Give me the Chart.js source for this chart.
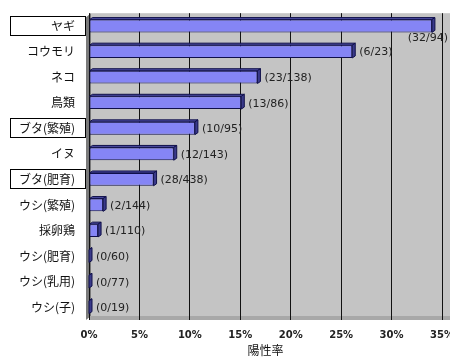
<!DOCTYPE html>
<html>
<head>
<meta charset="utf-8">
<script src="https://cdn.jsdelivr.net/npm/chart.js@4"></script>
<style>
  html, body { margin: 0; padding: 0; background: #fff; }
</style>
</head>
<body>
<canvas id="chart" width="450" height="358"></canvas>
<script>
const categories = ["ヤギ", "コウモリ", "ネコ", "鳥類", "ブタ(繁殖)", "イヌ", "ブタ(肥育)", "ウシ(繁殖)", "採卵鶏", "ウシ(肥育)", "ウシ(乳用)", "ウシ(子)"];
const rates = [34.0, 26.1, 16.7, 15.1, 10.5, 8.4, 6.4, 1.4, 0.9, 0, 0, 0];
const counts = ["(32/94)", "(6/23)", "(23/138)", "(13/86)", "(10/95)", "(12/143)", "(28/438)", "(2/144)", "(1/110)", "(0/60)", "(0/77)", "(0/19)"];
const boxed = ["ヤギ", "ブタ(繁殖)", "ブタ(肥育)"];
const xTicks = [0, 5, 10, 15, 20, 25, 30, 35];

const jpFont = '"Noto Sans CJK JP", sans-serif';

// 背景（灰色の壁）
const wallPlugin = {
  id: "wall",
  beforeDraw(chart) {
    const { ctx, chartArea: a } = chart;
    ctx.save();
    ctx.fillStyle = "#c4c4c4";
    ctx.fillRect(a.left, a.top, chart.width - a.left, a.bottom - a.top);
    ctx.fillStyle = "#7a7a7a";
    ctx.beginPath();
    ctx.moveTo(a.left - 3, a.top + 4);
    ctx.lineTo(a.left + 2, a.top);
    ctx.lineTo(a.left + 2, a.bottom - 4);
    ctx.lineTo(a.left - 3, a.bottom);
    ctx.fill();
    ctx.fillStyle = "#a8a8a8";
    ctx.fillRect(a.left, a.bottom - 4, chart.width - a.left, 4);
    ctx.restore();
  },
};

// ラベルの枠・棒の立体・件数
const decoPlugin = {
  id: "deco",
  afterDatasetsDraw(chart) {
    const { ctx, chartArea: a } = chart;
    const meta = chart.getDatasetMeta(0);
    const yScale = chart.scales.y;
    ctx.save();
    meta.data.forEach((bar, i) => {
      const h = bar.height;
      const top = bar.y - h / 2;
      const x0 = bar.base;
      const x1 = bar.x;
      // 上面
      ctx.fillStyle = "#4b4ba0";
      ctx.strokeStyle = "#10104a";
      ctx.lineWidth = 1;
      ctx.beginPath();
      ctx.moveTo(x0, top);
      ctx.lineTo(x0 + 3, top - 2);
      ctx.lineTo(x1 + 3, top - 2);
      ctx.lineTo(x1, top);
      ctx.closePath();
      ctx.fill();
      ctx.stroke();
      // 右面
      ctx.fillStyle = "#3a3a8a";
      ctx.beginPath();
      ctx.moveTo(x1, top);
      ctx.lineTo(x1 + 3, top - 2);
      ctx.lineTo(x1 + 3, top + h - 2);
      ctx.lineTo(x1, top + h);
      ctx.closePath();
      ctx.fill();
      ctx.stroke();

      // 件数ラベル
      ctx.font = "11px 'DejaVu Sans', sans-serif";
      ctx.fillStyle = "#222";
      ctx.textBaseline = "middle";
      const w = ctx.measureText(counts[i]).width;
      if (x1 + 8 + w > chart.width) {
        ctx.textAlign = "right";
        ctx.fillText(counts[i], chart.width - 2, bar.y + h / 2 + 6);
      } else {
        ctx.textAlign = "left";
        ctx.fillText(counts[i], x1 + 7, bar.y + 1);
      }
    });

    // 枠付きのカテゴリ
    categories.forEach((c, i) => {
      if (!boxed.includes(c)) return;
      const y = yScale.getPixelForValue(i);
      ctx.strokeStyle = "#000";
      ctx.lineWidth = 1;
      ctx.strokeRect(10.5, Math.round(y) - 9.5, a.left - 14, 19);
    });
    ctx.restore();
  },
};

new Chart(document.getElementById("chart"), {
  type: "bar",
  data: {
    labels: categories,
    datasets: [
      {
        data: rates,
        backgroundColor: "#8585f5",
        borderColor: "#10104a",
        borderWidth: 1,
        borderSkipped: false,
        barPercentage: 0.5,
        categoryPercentage: 1,
      },
    ],
  },
  options: {
    indexAxis: "y",
    responsive: false,
    animation: false,
    layout: { padding: { top: 8, right: 8, left: 0, bottom: 0 } },
    plugins: {
      legend: { display: false },
      tooltip: { enabled: false },
    },
    scales: {
      x: {
        min: 0,
        max: 35,
        afterBuildTicks: (s) => { s.ticks = xTicks.map((v) => ({ value: v })); },
        afterFit: (s) => {
          s.height = 38;
          s.paddingLeft = 0;
          s.paddingRight = 0;
        },
        grid: { color: "#111", lineWidth: 1, drawTicks: false },
        border: { display: false },
        ticks: {
          callback: (v) => v + "%",
          color: "#222",
          font: { family: "'DejaVu Sans', sans-serif", size: 10, weight: "bold" },
          padding: 9,
          maxRotation: 0,
        },
        title: {
          display: true,
          text: "陽性率",
          color: "#111",
          font: { family: jpFont, size: 12 },
          padding: { top: 0, bottom: 0 },
        },
      },
      y: {
        afterFit: (s) => { s.width = 89; },
        grid: { display: false },
        border: { display: false },
        ticks: {
          color: "#111",
          font: { family: jpFont, size: 12 },
          padding: 6,
        },
      },
    },
  },
  plugins: [wallPlugin, decoPlugin],
});
</script>
</body>
</html>
